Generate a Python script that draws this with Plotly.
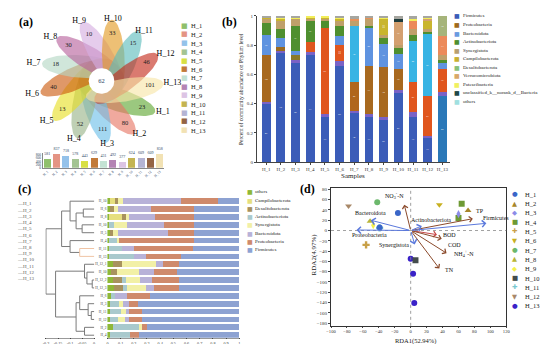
import numpy as np
import plotly.graph_objects as go

W, H = 550, 344
FONT = "Liberation Serif"
SYM = "DejaVu Sans"

# ------------------------------------------------------------------ data
samples = [f"H_{i}" for i in range(1, 14)]

# (a) flower diagram
unique_otus = [23, 80, 111, 52, 13, 40, 18, 30, 10, 33, 15, 46, 101]
core_otus = 62
total_otus = [581, 837, 718, 578, 443, 629, 431, 492, 377, 624, 609, 609, 858]

# (b) phylum composition (%), bottom -> top of each bar
phyla_b = ["Firmicutes", "Proteobacteria", "Bacteroidota", "Actinobacteriota",
           "Synergistota", "Campilobacterota", "Desulfobacterota",
           "Verrucomicrobiota", "Patescibacteria",
           "unclassified_k__norank_d__Bacteria", "others"]
firm_b   = [40, 75, 68, 73, 31, 66, 34, 31, 29, 47, 31, 17, 45]
desulf_b = [1, 1, 2, 2, 2, 3, 1, 2, 2, 2, 3, 1, 3]
proteo_b = [32, 3, 3, 7, 59, 11, 20, 33, 34, 15, 21, 27, 16]
bact_b   = [14, 6, 3, 0, 0, 6, 38, 26, 16, 10, 28, 43, 4]
actino_b = [8, 6, 17, 15, 5, 7, 0, 1, 4, 4, 4, 1, 2]
syn_b    = [3, 6, 5, 1, 1, 4, 4, 5, 2, 2, 4, 2, 3]
campi_b  = [1, 1, 0, 1, 1, 1, 0, 0, 11, 0, 0, 6, 0]
verru_b  = [0, 0, 0, 0, 0, 0, 1, 1, 0, 16, 6, 1, 13]
pates_b  = [0, 1, 1, 1, 1, 1, 0, 0, 1, 0, 1, 1, 0]
uncl_b   = [0, 0, 0, 0, 0, 0, 0, 0, 0, 2, 0, 0, 0]
others_b = [1, 1, 1, 0, 0, 1, 2, 1, 1, 2, 2, 1, 14]

# (c) clustered composition (fractions), rows top -> bottom
rows_c = ["H_10", "H_6", "H_8", "H_10", "H_5", "H_4", "H_11", "H_13", "H_12_1",
          "H_10", "H_12_2", "H_12_3", "H_6", "H_3", "H_11", "H_12", "H_2", "H_4"]
phyla_c = ["others", "Campilobacterota", "Desulfobacterota", "Actinobacteriota",
           "Synergistota", "Bacteroidota", "Proteobacteria", "Firmicutes"]
others_c = [.02, .02, .01, .01, .02, .01, .01, .01, .04, .03, .04, .05, .03, .02, .02, .02, .04, .02]
campi_c  = [.04, 0, .10, 0, 0, 0, 0, 0, 0, 0, 0, 0, 0, 0, 0, 0, 0, 0]
desulf_c = [.02, .03, .03, 0, .02, 0, 0, 0, .07, .04, .07, .07, 0, 0, 0, 0, 0, 0]
actino_c = [0, 0, 0, .04, 0, .06, .10, .19, 0, 0, .03, .03, .03, .07, .08, .06, .20, .15]
syn_c    = [.04, .03, .02, .10, .04, .02, 0, 0, .26, .17, .11, .14, 0, .03, .04, .05, .02, 0]
bact_c   = [.44, .25, .20, .28, .38, 0, .09, .09, .05, .11, .09, .06, .09, .04, .02, .03, 0, 0]
proteo_c = [.28, .33, .30, .23, .20, .57, .45, .27, .12, .18, .20, .19, .17, .07, .10, .10, .04, .07]
firm_c   = [.16, .34, .34, .34, .34, .34, .35, .44, .46, .47, .46, .46, .68, .77, .74, .74, .70, .76]
# dendrogram merges: (child a, child b, height); leaves 0..17, new nodes from 18
merges_c = [(1, 2, -0.045), (3, 4, -0.05), (18, 19, -0.075), (0, 20, -0.10),
            (6, 7, -0.06), (5, 22, -0.10), (21, 23, -0.135),
            (10, 11, -0.008), (9, 25, -0.03), (8, 26, -0.04),
            (14, 15, -0.012), (13, 28, -0.025), (12, 29, -0.06), (16, 17, -0.04),
            (30, 31, -0.075), (27, 32, -0.16), (24, 33, -0.2)]

# (d) RDA
rda1 = [[-16, -39], [72], [60], [64, 60], [-56], [36], [-42], [-51], [-47], [6], [-39], [-78], [0, 3, 4.5]]
rda2 = [[34, 6], [39], [32], [52, 24.5], [-28], [50], [55], [18], [10.5], [-58], [5], [47.5], [-55, -84, -141]]
env_names = ["NO<sub>3</sub><sup>-</sup>-N", "TP", "BOD", "COD", "NH<sub>4</sub><sup>+</sup>-N", "TN"]
env_x = [-8, 78, 33, 39, 45, 36]
env_y = [50, 23, -8, -16, -44, -74]
sp_names = ["Bacteroidota", "Proteobacteria", "Actinobacteriota", "Firmicutes", "Synergistota"]
sp_x = [-50, -68, 14, 95, 5]
sp_y = [20, 1, 9, 14, -27]

# ------------------------------------------------------------------ styles
petal_cols = ["#5fa832", "#e87564", "#6cc0ea", "#98b488", "#e8df25", "#cc5a0c",
              "#b4d8c4", "#b8609c", "#d6aee2", "#e39a22", "#5cbcbc", "#c42a1a", "#f8e6a8"]
leg_a_cols = ["#8fc06c", "#e49484", "#94c2ea", "#a4c492", "#d8e044", "#c27a3a",
              "#c4e2d4", "#b484b4", "#dcc4e4", "#c4b452", "#b4b4d4", "#946444", "#f2e2b4"]
bar_cols_b = {
    "firm":   ["#3b5cb8"] * 12 + ["#2a78b8"],
    "desulf": ["#7a62c6"] * 13,
    "proteo": ["#a8691f", "#9a6a20", "#8a7a28", "#e0561e", "#e0561e", "#e0561e", "#b0661c",
               "#a8691f", "#a8691f", "#a8691f", "#e0561e", "#e0561e", "#e0561e"],
    "bact":   ["#5f93e0", "#5f93e0", "#5f93e0", "#5f93e0", "#5f93e0", "#5f93e0", "#38b4e4",
               "#5f93e0", "#5f93e0", "#5f93e0", "#38b4e4", "#38b4e4", "#5f93e0"],
    "actino": ["#4f8f2f"] * 13,
    "syn":    ["#bfa06a"] * 13,
    "campi":  ["#c9b52e"] * 13,
    "verru":  ["#e8915a"] * 9 + ["#d4a070", "#ec8a5a", "#d4a070", "#ec8a5a"],
    "pates":  ["#f2ee5a"] * 13,
    "uncl":   ["#1e3b3b"] * 13,
    "others": ["#a6a6a0"] * 12 + ["#a6b47a"],
}
leg_b_cols = ["#3b5cb8", "#a06a1a", "#6a9ae0", "#4f8f2f", "#b8a070", "#c8b030",
              "#88c078", "#d8a868", "#f0f060", "#204848", "#a0e0e0"]
cols_c = ["#8fb838", "#e6df7e", "#a8925e", "#a9c9cd", "#f2f0a6", "#b8b2d8", "#cf8a6c", "#8da2d2"]
d_cols = ["#3a66c8", "#a8862a", "#8c8ce8", "#6e9a34", "#c8a048", "#c8b020", "#6cb86c",
          "#b8b438", "#f4f04c", "#444c4c", "#78c8d0", "#a88868", "#3a22c8"]
d_syms = ["circle", "triangle-up", "diamond-tall", "square", "cross", "triangle-down"] * 2 + ["circle"]
d_glyph = ["●", "▲", "◆", "■", "✚", "▼"] * 2 + ["●"]
ENV_COL = "#8b4a2b"
SP_COL = "#5a78dc"


def px(x):
    return x / W


def py(y):
    return 1 - y / H


annotations = []


def txt(x, y, s, size, color="#000", xa="center", ya="middle", bold=False, angle=0, family=FONT):
    annotations.append(dict(x=px(x), y=py(y), xref="paper", yref="paper", text=f"<b>{s}</b>" if bold else s,
                            showarrow=False, xanchor=xa, yanchor=ya, textangle=angle,
                            font=dict(size=size, color=color, family=family)))


fig = go.Figure()

# ------------------------------------------------------------------ (a) flower
TIP, A_AX, B_AX, TILT = 63, 40, 11.5, np.deg2rad(12)
LAB_RX, LAB_RY = 72, 64
t = np.linspace(0, 2 * np.pi, 80)
num_x, num_y, lab_x, lab_y = [], [], [], []
for i, s in enumerate(samples):
    th = np.deg2rad(-30 - i * 360 / 13)
    ph = th + TILT
    tx, ty = TIP * np.cos(th), TIP * np.sin(th)
    cx, cy = tx - A_AX * np.cos(ph), ty - A_AX * np.sin(ph)
    ex = cx + A_AX * np.cos(t) * np.cos(ph) - B_AX * np.sin(t) * np.sin(ph)
    ey = cy + A_AX * np.cos(t) * np.sin(ph) + B_AX * np.sin(t) * np.cos(ph)
    fig.add_trace(go.Scatter(x=ex, y=ey, mode="lines", fill="toself", fillcolor=petal_cols[i],
                             opacity=0.62, line=dict(width=0), hoverinfo="skip", xaxis="x", yaxis="y"))
    num_x.append(tx - 14 * np.cos(ph))
    num_y.append(ty - 14 * np.sin(ph))
    lab_x.append(LAB_RX * np.cos(th))
    lab_y.append(LAB_RY * np.sin(th))
fig.add_trace(go.Scatter(x=num_x, y=num_y, mode="text", text=[str(v) for v in unique_otus],
                         textfont=dict(size=6.5, family=FONT, color="#222"), cliponaxis=False,
                         xaxis="x", yaxis="y"))
fig.add_trace(go.Scatter(x=lab_x, y=lab_y, mode="text", text=samples, cliponaxis=False,
                         textfont=dict(size=8, family=FONT, color="#000"), xaxis="x", yaxis="y"))
fig.add_trace(go.Scatter(x=13 * np.cos(t), y=13 * np.sin(t), mode="lines", fill="toself",
                         fillcolor="white", line=dict(width=0), xaxis="x", yaxis="y"))
fig.add_trace(go.Scatter(x=[0], y=[0], mode="text", text=[str(core_otus)],
                         textfont=dict(size=6.5, family=FONT), xaxis="x", yaxis="y"))

# mini bar of total OTUs
fig.add_trace(go.Bar(x=samples, y=total_otus, marker=dict(color=leg_a_cols, line=dict(width=0)),
                     width=0.75, text=[str(v) for v in total_otus], textposition="outside",
                     textfont=dict(size=4, family=FONT), cliponaxis=False, xaxis="x2", yaxis="y2"))

# legend (a)
for i, s in enumerate(samples):
    y0 = 16 + i * 8.83
    txt(174.5, y0, "■", 7, leg_a_cols[i], family=SYM)
    txt(179, y0, s, 6.5, "#222", xa="left")

# ------------------------------------------------------------------ (b) stacked bars
series_b = [("firm", firm_b), ("desulf", desulf_b), ("proteo", proteo_b), ("bact", bact_b),
            ("actino", actino_b), ("syn", syn_b), ("campi", campi_b), ("verru", verru_b),
            ("pates", pates_b), ("uncl", uncl_b), ("others", others_b)]
for key, vals in series_b:
    fig.add_trace(go.Bar(x=list(range(13)), y=[v / 100 for v in vals], width=0.6,
                         marker=dict(color=bar_cols_b[key], line=dict(width=0)),
                         text=[str(v) if v >= 10 else None for v in vals], textposition="inside",
                         insidetextanchor="middle", textangle=0,
                         textfont=dict(size=4.5, color="white", family=FONT),
                         xaxis="x3", yaxis="y3"))
for i, p in enumerate(phyla_b):
    y0 = 6 + i * 8.67
    txt(451.5, y0, "■", 6, leg_b_cols[i], family=SYM)
    txt(455.5, y0, p, 5.0, "#222", xa="left")
txt(232, 80, "Percent of community abundance on Phylum level", 5.5, "#222", angle=-90)
txt(346, 168, "Samples", 7, "#222")

# ------------------------------------------------------------------ (c) dendrogram + bars
node = {i: (0.0, float(i)) for i in range(18)}
gx, gy, cx_, cy_ = [], [], [], []
for k, (a, b, h) in enumerate(merges_c):
    xa, ya = node[a]
    xb, yb = node[b]
    tgt_x, tgt_y = (cx_, cy_) if (a, b) == (6, 7) else (gx, gy)
    tgt_x += [xa, h, h, xb, None]
    tgt_y += [ya, ya, yb, yb, None]
    node[18 + k] = (h, (ya + yb) / 2)
fig.add_trace(go.Scatter(x=gx, y=gy, mode="lines", line=dict(color="#7a7a7a", width=1),
                         xaxis="x4", yaxis="y4", cliponaxis=False))
fig.add_trace(go.Scatter(x=cx_, y=cy_, mode="lines", line=dict(color="#f0c4a4", width=1),
                         xaxis="x4", yaxis="y4", cliponaxis=False))

series_c = [others_c, campi_c, desulf_c, actino_c, syn_c, bact_c, proteo_c, firm_c]
for j, vals in enumerate(series_c):
    fig.add_trace(go.Bar(y=list(range(18)), x=vals, orientation="h", width=0.72,
                         marker=dict(color=cols_c[j], line=dict(width=0)),
                         xaxis="x5", yaxis="y5"))
for i, p in enumerate(phyla_c):
    y0 = 184.5 + i * 8.4
    txt(241, y0, "■", 6, cols_c[i], family=SYM)
    txt(244.5, y0, p, 5, "#222", xa="left")
for i, s in enumerate(samples):
    txt(2, 196.7 + i * 6.33, "—" + s, 5, "#555", xa="left")

# ------------------------------------------------------------------ (d) RDA
for i in reversed(range(13)):
    fig.add_trace(go.Scatter(x=rda1[i], y=rda2[i], mode="markers",
                             marker=dict(symbol=d_syms[i], color=d_cols[i], size=6,
                                         line=dict(width=0)),
                             xaxis="x6", yaxis="y6"))
env_off = [(-10, 9, "center"), (1, 8, "left"), (4, 0, "left"), (4, -6, "left"), (5, 0, "left"), (4, -1, "left")]
for i, n in enumerate(env_names):
    annotations.append(dict(x=env_x[i], y=env_y[i], ax=0, ay=0, xref="x6", yref="y6", axref="x6", ayref="y6",
                            showarrow=True, arrowhead=4, arrowsize=1.1, arrowwidth=1,
                            arrowcolor="#c84848" if n == "BOD" else ENV_COL, text=""))
    ox, oy, xa = env_off[i]
    annotations.append(dict(x=env_x[i], y=env_y[i], xref="x6", yref="y6", text=n, showarrow=False,
                            xshift=ox, yshift=oy, xanchor=xa, font=dict(size=6, family=FONT, color="#111")))
sp_off = [(0, 7, "center"), (13, -5, "center"), (9, 6, "center"), (10, 5, "center"), (-4, -1, "right")]
for i, n in enumerate(sp_names):
    annotations.append(dict(x=sp_x[i], y=sp_y[i], ax=0, ay=0, xref="x6", yref="y6", axref="x6", ayref="y6",
                            showarrow=True, arrowhead=4, arrowsize=1.3, arrowwidth=1,
                            arrowcolor=SP_COL, text=""))
    ox, oy, xa = sp_off[i]
    annotations.append(dict(x=sp_x[i], y=sp_y[i], xref="x6", yref="y6", text=n, showarrow=False,
                            xshift=ox, yshift=oy, xanchor=xa, font=dict(size=6, family=FONT, color="#111")))
for i, s in enumerate(samples):
    y0 = 187 + i * 9.44
    txt(510, y0, d_glyph[i], 6.5, d_cols[i], family=SYM)
    txt(518, y0, s, 6.5, "#222", xa="left")
txt(409, 335.5, "RDA1(52.94%)", 6.5, "#222")
txt(306, 248, "RDA2(4.97%)", 7, "#222", angle=-90)

# panel labels
txt(13, 12, "(a)", 12, bold=True)
txt(220, 12, "(b)", 12, bold=True)
txt(12, 182, "(c)", 12, bold=True)
txt(299, 182, "(d)", 12, bold=True)

# ------------------------------------------------------------------ layout
hidden = dict(visible=False, showgrid=False, zeroline=False)
tickf = dict(size=5, family=FONT, color="#333")
fig.update_layout(
    width=W, height=H, margin=dict(l=0, r=0, t=0, b=0), paper_bgcolor="white", plot_bgcolor="white",
    showlegend=False, barmode="stack", font=dict(family=FONT),
    uniformtext=dict(minsize=4, mode="show"),
    xaxis=dict(domain=[0, px(180)], range=[-90, 90], **hidden),
    yaxis=dict(domain=[py(142), 1], range=[-70, 72], **hidden),
    xaxis2=dict(domain=[px(30), px(154)], anchor="y2", showgrid=False, showline=True, linewidth=0.5,
                linecolor="#888", tickangle=-45, tickfont=dict(size=3.5, family=FONT), ticks=""),
    yaxis2=dict(domain=[py(160), py(145.6)], anchor="x2", range=[0, 900], showgrid=False, showline=True,
                linewidth=0.5, linecolor="#888", tickvals=[0, 200, 400, 600, 800],
                tickfont=dict(size=3.5, family=FONT), ticks=""),
    xaxis3=dict(domain=[px(248), px(444)], anchor="y3", range=[-0.63, 12.5], tickvals=list(range(13)),
                ticktext=samples, tickfont=tickf, showline=True, linecolor="#444", linewidth=0.8,
                ticks="outside", ticklen=2, showgrid=False, zeroline=False),
    yaxis3=dict(domain=[py(154.3), py(6)], anchor="x3", range=[0, 1], dtick=0.2, tickfont=tickf,
                showline=True, linecolor="#444", linewidth=0.8, ticks="outside", ticklen=2,
                showgrid=False, zeroline=False),
    xaxis4=dict(domain=[px(33), px(83)], anchor="y4", range=[-0.202, 0.002],
                tickvals=[-0.2, -0.15, -0.1, -0.05, 0], ticktext=["-0.2", "-0.15", "-0.1", "-0.05", "0"],
                tickfont=dict(size=4.2, family=FONT, color="#333"), showline=True, linecolor="#999",
                linewidth=0.6, ticks="outside", ticklen=1, showgrid=False, zeroline=False),
    yaxis4=dict(domain=[py(332.5), py(190)], anchor="x4", range=[17.31, -0.5], **hidden),
    xaxis5=dict(domain=[px(96), px(230)], anchor="y5", range=[0, 1], dtick=0.1,
                tickfont=dict(size=4.2, family=FONT, color="#333"), showline=True, linecolor="#999",
                linewidth=0.6, ticks="outside", ticklen=1, showgrid=False, zeroline=False),
    yaxis5=dict(domain=[py(332.5), py(190)], anchor="x5", range=[17.31, -0.5], tickvals=list(range(18)),
                ticktext=rows_c, tickfont=dict(size=3.5, family=FONT, color="#444"), ticks="",
                showline=False, showgrid=False, zeroline=False),
    xaxis6=dict(domain=[px(323.3), px(501.5)], anchor="y6", range=[-100, 120], dtick=20,
                tickfont=dict(size=4.6, family=FONT, color="#333"),
                showline=True, mirror=True, linecolor="#333", linewidth=0.8, ticks="outside", ticklen=1,
                showgrid=False, zeroline=False),
    yaxis6=dict(domain=[py(320.5), py(181)], anchor="x6", range=[-185.4, 82],
                tickvals=list(range(-180, 81, 20)), tickfont=tickf, showline=True, mirror=True,
                linecolor="#333", linewidth=0.8, ticks="outside", ticklen=2, showgrid=False, zeroline=False),
    annotations=annotations,
    shapes=[
        dict(type="line", xref="x6", yref="y6 domain", x0=0, x1=0, y0=0, y1=1,
             line=dict(color="#888", width=0.8, dash="dot")),
        dict(type="line", xref="x6 domain", yref="y6", x0=0, x1=1, y0=0, y1=0,
             line=dict(color="#888", width=0.8, dash="dot")),
    ],
)
fig.write_html("out.html")
